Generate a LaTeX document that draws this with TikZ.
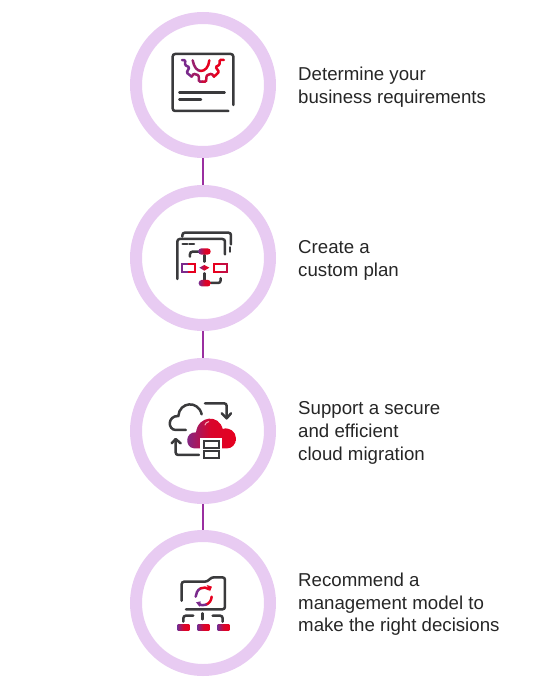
\documentclass[tikz,border=0pt]{standalone}
\usepackage{xcolor}
\usepackage{fontspec}
\setmainfont{Liberation Sans}
\usetikzlibrary{shapes,positioning}
\definecolor{ringlilac}{HTML}{E8CBF2}
\definecolor{linkpurple}{HTML}{9A2FA0}
\definecolor{iconink}{HTML}{3A3A3C}
\definecolor{iconpurple}{HTML}{7A2A8C}
\definecolor{iconred}{HTML}{E6001F}
\tikzstyle{ring} = [circle, draw=ringlilac, line width=12pt, fill=white, minimum size=134pt]
\tikzstyle{link} = [linkpurple, line width=1.2pt]
\tikzstyle{steptext} = [anchor=west, align=left, inner sep=0pt, font=\fontsize{18.67pt}{22.6pt}\selectfont, text=black!85]
\tikzstyle{ink} = [iconink, line width=2.5pt, line cap=round, rounded corners=2.5pt]
\tikzstyle{hue} = [line width=2.5pt, line cap=round, rounded corners=1pt]
\tikzstyle{boxline} = [line width=2pt, line cap=round]
\tikzstyle{gradfill} = [left color=iconpurple, right color=iconred, middle color=iconred!88!iconpurple, draw=none]

\begin{document}
\begin{tikzpicture}[x=1pt,y=-1pt]
\useasboundingbox (0,0) rectangle (552,696);

\foreach \y/\id in {85/ringa,258/ringb,431/ringc,603/ringd}{
  \node[ring] (\id) at (203,\y) {};
}
\draw[link] (ringa) -- (ringb);
\draw[link] (ringb) -- (ringc);
\draw[link] (ringc) -- (ringd);

\node[steptext] (texta) at (298,87) {Determine your\\business requirements};
\node[steptext] (textb) at (298,260.5) {Create a\\custom plan};
\node[steptext] (textc) at (298,433) {Support a secure\\and efficient\\cloud migration};
\node[steptext] (textd) at (298,604.5) {Recommend a\\management model to\\make the right decisions};

% report with gear
\begin{scope}[shift={(150,30)},x=0.3333pt,y=-0.3333pt]
\draw[ink] (250,225) -- (250,72) -- (68,72) -- (68,243) -- (235,243);
\draw[ink] (88,188) -- (224,188);
\draw[ink] (88,208) -- (153,208);
\draw[hue, iconpurple] (96,90) -- (106,91) -- (105,105) -- (118,112) -- (110,128) -- (125,140);
\draw[hue, iconpurple!65!iconred] (125,140) -- (131,131) -- (146,136) -- (147,155) -- (157,155);
\draw[hue, iconpurple!25!iconred] (157,155) -- (168,155) -- (170,136) -- (185,131) -- (192,140);
\draw[hue, iconred] (192,140) -- (207,126) -- (197,111) -- (209,104) -- (209,90) -- (222,90);
\draw[hue, iconpurple!70!iconred] (128,91) .. controls (132,112) and (141,122) .. (152,123);
\draw[hue, iconred] (152,123) .. controls (165,123) and (176,112) .. (178,91);
\end{scope}

% flow chart
\begin{scope}[shift={(150,205)},x=0.3333pt,y=-0.3333pt]
\draw[ink] (97,95) -- (97,83) -- (243,83) -- (243,118);
\draw[ink] (240,127) -- (240,140);
\draw[ink] (82,222) -- (82,102) -- (225,102) -- (225,148);
\draw[ink] (98,117) -- (112,117);
\draw[ink] (118,117) -- (132,117);
\draw[ink] (120,155) -- (120,140) -- (150,140);
\draw[ink] (163,150) -- (163,170);
\draw[ink] (163,205) -- (163,225);
\draw[ink] (175,234) -- (212,234) -- (212,220);
\shade[gradfill, rounded corners=3pt] (145,130) rectangle (182,149);
\shade[gradfill, rounded corners=3pt] (146,225) rectangle (183,244);
\shade[gradfill] (148,188) -- (163,180) -- (178,188) -- (163,197) -- cycle;
\draw[boxline, iconpurple] (116,177) -- (97,177) -- (97,200) -- (116,200);
\draw[boxline, iconred] (116,177) -- (135,177) -- (135,200) -- (116,200);
\draw[boxline, iconred] (212,177) -- (192,177) -- (192,200) -- (212,200);
\draw[boxline, iconred!70!iconpurple] (212,177) -- (232,177) -- (232,200) -- (212,200);
\end{scope}

% cloud migration
\begin{scope}[shift={(150,375)},x=0.3333pt,y=-0.3333pt]
\draw[iconink, line width=2.5pt, line cap=round] (108,165) -- (78,165) .. controls (52,165) and (52,122) .. (85,123)
  .. controls (88,80) and (145,75) .. (155,118);
\draw[ink] (165,85) -- (230,85) -- (230,128);
\draw[ink, rounded corners=0pt, line join=round] (215,115) -- (230,130) -- (243,115);
\draw[ink] (147,240) -- (77,240) -- (77,195);
\draw[ink, rounded corners=0pt, line join=round] (65,205) -- (77,192) -- (92,205);
\shade[gradfill] (132,220) .. controls (104,218) and (104,170) .. (138,172)
  .. controls (145,120) and (208,118) .. (218,162)
  .. controls (238,155) and (258,170) .. (258,190)
  .. controls (258,208) and (246,220) .. (232,220) -- cycle;
\draw[white!70!iconred, line width=1pt, line cap=round] (165,150) .. controls (166,145) and (170,141) .. (176,140);
\fill[white] (150,190) rectangle (216,255);
\draw[iconink, line width=2.2pt] (161,198) rectangle (207,218);
\draw[iconink, line width=2.2pt] (161,228) rectangle (207,248);
\end{scope}

% folder with sync
\begin{scope}[shift={(150,550)},x=0.3333pt,y=-0.3333pt]
\draw[ink] (95,152) -- (95,95) -- (172,95) -- (184,82) -- (225,82) -- (225,178) -- (108,178);
\draw[ink] (158,190) -- (158,208);
\draw[ink] (100,215) -- (100,197) -- (130,197);
\draw[ink] (188,197) -- (218,197) -- (218,215);
\draw[hue, iconpurple] (137,140) .. controls (138,130) and (142,120) .. (152,115);
\draw[hue, iconred] (152,115) .. controls (160,111) and (170,112) .. (178,118);
\fill[iconred] (170,105) -- (186,110) -- (180,124) -- cycle;
\draw[hue, iconred] (185,140) .. controls (184,152) and (178,160) .. (168,164);
\draw[hue, iconpurple] (168,164) .. controls (160,167) and (152,166) .. (146,162);
\fill[iconpurple] (138,157) -- (152,154) -- (150,171) -- cycle;
\foreach \x/\id in {83/boxa,143/boxb,203/boxc}{
  \shade[gradfill] (\x,225) rectangle (\x+35,242);
}
\end{scope}
\end{tikzpicture}
\end{document}
